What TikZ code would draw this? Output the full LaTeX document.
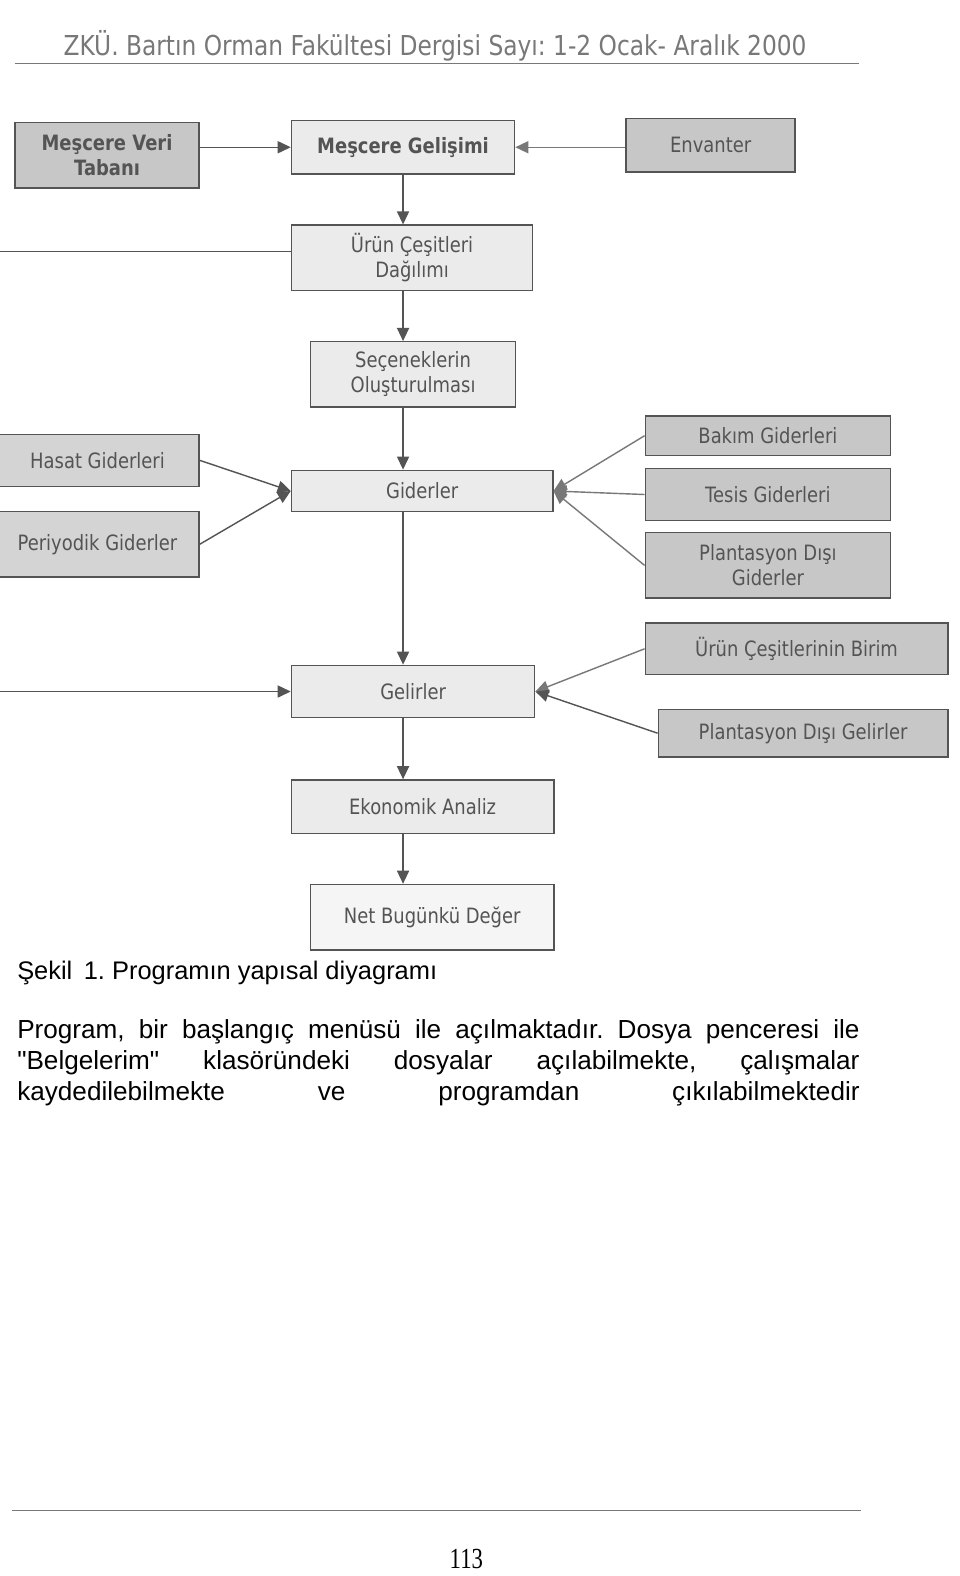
\documentclass[tikz,border=0pt]{standalone}
\usepackage{fontspec}
\setmainfont{Liberation Sans}[Ligatures=TeXOff]
\newfontfamily\kutufont{DejaVu Sans}[FakeStretch=0.85]
\newfontfamily\sayfafont{Liberation Serif}[FakeStretch=0.78]
\usepackage{tikz}
\usetikzlibrary{arrows.meta}
\usetikzlibrary{calc}
\usepackage{xcolor}
\definecolor{myInk}{rgb}{0.33,0.33,0.33}
\definecolor{myHead}{rgb}{0.47,0.47,0.47}
\definecolor{myDark}{rgb}{0.78,0.78,0.78}
\definecolor{myMid}{rgb}{0.83,0.83,0.83}
\definecolor{myLight}{rgb}{0.92,0.92,0.92}
\definecolor{myPale}{rgb}{0.96,0.96,0.96}
\tikzset{
  kutu/.style={draw=myInk, line width=1.4pt, text=myInk, align=center, inner sep=2pt,
    font=\kutufont\fontsize{21}{25}\selectfont},
  koyu kutu/.style={kutu, fill=myDark},
  orta kutu/.style={kutu, fill=myMid},
  acik kutu/.style={kutu, fill=myLight},
  soluk kutu/.style={kutu, fill=myPale},
  ok/.style={draw=myInk, line width=1.4pt, -{Triangle[length=13pt,width=12pt]}},
  duz/.style={draw=myInk, line width=1.4pt},
  metin/.style={anchor=base west, inner sep=0pt, font=\fontsize{26}{31}\selectfont},
}
\frenchspacing

\begin{document}
\begin{tikzpicture}[x=1pt, y=-1pt]
%%%%%%%%%%%%%%%%%%%%%%%%%%%%%%%%%%%%%%%%%%%%%%%%%%%%%%%%%%%%%% Setup
\fill[white] (0,0) rectangle (955,1568);
\useasboundingbox (0,0) rectangle (955,1568);
\coordinate (eksen) at (401,0);
\coordinate (solA) at (0,250);
\coordinate (solB) at (0,688);

%%%%%%%%%%%%%%%%%%%%%%%%%%%%%%%%%%%%%%%%%%%%%%%%%%%%%%%%%%%%%% Header
\node[anchor=base west, inner sep=0pt, text=myHead, font=\kutufont\fontsize{27.3}{30}\selectfont] (baslik) at (63,55) {ZKÜ. Bartın Orman Fakültesi Dergisi Sayı: 1-2 Ocak- Aralık 2000};
\draw[myHead, line width=1pt] (15,63) -- (855,63);

%%%%%%%%%%%%%%%%%%%%%%%%%%%%%%%%%%%%%%%%%%%%%%%%%%%%%%%%%%%%%% Boxes
\node[koyu kutu, minimum width=183pt, minimum height=65pt] (vtab) at (106.5,154.5) {\bfseries Meşcere Veri\\\bfseries Tabanı};
\node[acik kutu, minimum width=222pt, minimum height=53pt] (gelisim) at (401,146.5) {\bfseries Meşcere Gelişimi};
\node[koyu kutu, minimum width=168pt, minimum height=53pt] (envanter) at (707,144.5) {Envanter};
\node[acik kutu, minimum width=240pt, minimum height=65pt] (dagilim) at (410,256.5) {Ürün Çeşitleri\\Dağılımı};
\node[acik kutu, minimum width=204pt, minimum height=65pt] (secenek) at (411,372.5) {Seçeneklerin\\Oluşturulması};
\node[acik kutu, minimum width=260pt, minimum height=41pt] (giderler) at (420,488.5) {Giderler};

% left side costs
\node[orta kutu, minimum width=202pt, minimum height=52pt] (hasat) at (97,458) {Hasat Giderleri};
\node[orta kutu, minimum width=202pt, minimum height=65pt] (periyodik) at (97,541.5) {Periyodik Giderler};

% right side costs
\node[koyu kutu, minimum width=244pt, minimum height=39pt] (bakim) at (764,433.5) {Bakım Giderleri};
\node[koyu kutu, minimum width=244pt, minimum height=52pt] (tesis) at (764,492) {Tesis Giderleri};
\node[koyu kutu, minimum width=244pt, minimum height=65pt] (pdgider) at (764,562.5) {Plantasyon Dışı\\Giderler};

% incomes
\node[acik kutu, minimum width=242pt, minimum height=52pt] (gelirler) at (411,688) {Gelirler};
\node[koyu kutu, minimum width=301pt, minimum height=51pt] (birim) at (792.5,645.5) {Ürün Çeşitlerinin Birim};
\node[koyu kutu, minimum width=288pt, minimum height=47pt] (pdgelir) at (799,729.5) {Plantasyon Dışı Gelirler};

\node[acik kutu, minimum width=261pt, minimum height=53pt] (analiz) at (420.5,802.5) {Ekonomik Analiz};
\node[soluk kutu, minimum width=242pt, minimum height=65pt] (npv) at (430,912.5) {Net Bugünkü Değer};

%%%%%%%%%%%%%%%%%%%%%%%%%%%%%%%%%%%%%%%%%%%%%%%%%%%%%%%%%%%%%% Connectors
\draw[ok] (gelisim.west -| vtab.east) -- (gelisim.west);
\draw[ok, draw=myHead] (gelisim.east -| envanter.west) -- (gelisim.east);

% main spine
\draw[ok] (gelisim.south) -- (dagilim.north -| eksen);
\draw[ok] (dagilim.south -| eksen) -- (secenek.north -| eksen);
\draw[ok] (secenek.south -| eksen) -- (giderler.north -| eksen);
\draw[ok] (giderler.south -| eksen) -- (gelirler.north -| eksen);
\draw[ok] (gelirler.south -| eksen) -- (analiz.north -| eksen);
\draw[ok] (analiz.south -| eksen) -- (npv.north -| eksen);

% from the left edge
\draw[duz] (solA) -- (solA -| dagilim.west);
\draw[ok] (solB) -- (gelirler.west);

% costs
\draw[ok] (hasat.east) -- (giderler.west);
\draw[ok] (periyodik.east) -- (giderler.west);
\draw[ok, draw=myHead] (bakim.west) -- (giderler.east);
\draw[ok, draw=myHead] (tesis.west) -- (giderler.east);
\draw[ok, draw=myHead] (pdgider.west) -- (giderler.east);

% incomes
\draw[ok, draw=myHead] (birim.west) -- (gelirler.east);
\draw[ok] (pdgelir.west) -- (gelirler.east);

%%%%%%%%%%%%%%%%%%%%%%%%%%%%%%%%%%%%%%%%%%%%%%%%%%%%%%%%%%%%%% Caption and text
\node[metin, font=\fontsize{25.3}{31}\selectfont] (sekil) at (17,975) {Şekil\hspace{0.45em}1. Programın yapısal diyagramı};
\node[metin] (satirA) at (17,1033) {\makebox[838pt][s]{Program, bir başlangıç menüsü ile açılmaktadır. Dosya penceresi ile}};
\node[metin] (satirB) at (17,1064) {\makebox[838pt][s]{"Belgelerim" klasöründeki dosyalar açılabilmekte, çalışmalar}};
\node[metin] (satirC) at (17,1095) {\makebox[838pt][s]{kaydedilebilmekte ve programdan çıkılabilmektedir}};

%%%%%%%%%%%%%%%%%%%%%%%%%%%%%%%%%%%%%%%%%%%%%%%%%%%%%%%%%%%%%% Footer
\draw[myHead, line width=1pt] (12,1503) -- (857,1503);
\node[anchor=base, inner sep=0pt, font=\sayfafont\fontsize{29}{32}\selectfont] (sayfa) at (464,1561) {113};

\end{tikzpicture}
\end{document}
